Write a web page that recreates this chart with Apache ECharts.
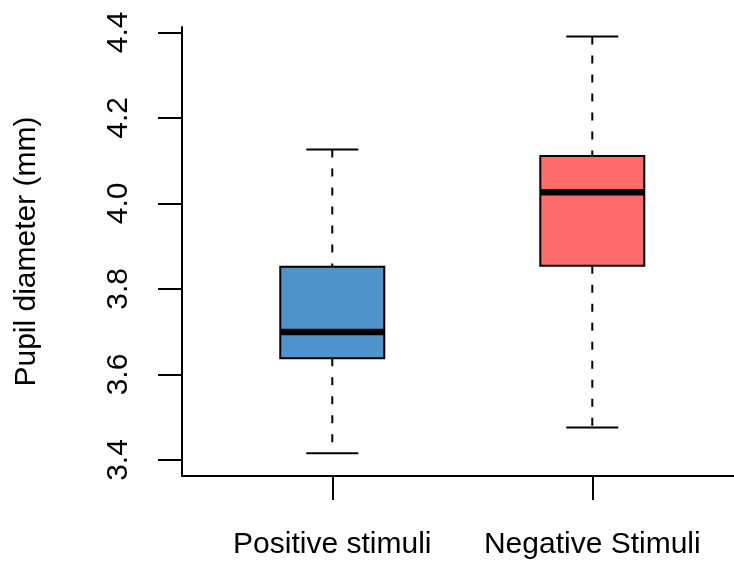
<!DOCTYPE html>
<html>
<head>
<meta charset="utf-8">
<script src="https://cdn.jsdelivr.net/npm/echarts@6/dist/echarts.min.js"></script>
<style>
html,body{margin:0;padding:0;background:#fff;}
#chart{width:734px;height:562px;}
</style>
</head>
<body>
<div id="chart"></div>
<script>
// ---- data ----
var categories = ['Positive stimuli', 'Negative Stimuli'];
var positions = [1, 2];
var lowerWhisker = [3.416, 3.476];
var q1Values = [3.638, 3.854];
var medianValues = [3.699, 4.026];
var q3Values = [3.852, 4.111];
var upperWhisker = [4.126, 4.390];
var yTicks = [3.4, 3.6, 3.8, 4.0, 4.2, 4.4];
var yTitle = 'Pupil diameter (mm)';
var boxColors = ['#4F94CD', '#FF6A6A'];

var FONT = '"Liberation Sans", Arial, Helvetica, sans-serif';
var boxHalf = 0.2, capHalf = 0.1;

var seriesData = positions.map(function (p, i) {
  return [p, lowerWhisker[i], q1Values[i], medianValues[i], q3Values[i], upperWhisker[i], i];
});

function renderItem(params, api) {
  var x = api.value(0);
  var lo = api.value(1), q1 = api.value(2), med = api.value(3), q3 = api.value(4), hi = api.value(5);
  var idx = api.value(6);
  var pLeftTop = api.coord([x - boxHalf, q3]);
  var pRightBot = api.coord([x + boxHalf, q1]);
  var pMedL = api.coord([x - boxHalf, med]);
  var pMedR = api.coord([x + boxHalf, med]);
  var pHi = api.coord([x, hi]);
  var pLo = api.coord([x, lo]);
  var pQ3 = api.coord([x, q3]);
  var pQ1 = api.coord([x, q1]);
  var capHiL = api.coord([x - capHalf, hi]);
  var capHiR = api.coord([x + capHalf, hi]);
  var capLoL = api.coord([x - capHalf, lo]);
  var capLoR = api.coord([x + capHalf, lo]);
  var dashStyle = {stroke: '#000', lineWidth: 2, lineDash: [8, 11], fill: null};
  var solid = {stroke: '#000', lineWidth: 2, fill: null};
  return {
    type: 'group',
    children: [
      {type: 'line', shape: {x1: pHi[0], y1: pHi[1], x2: pQ3[0], y2: pQ3[1]}, style: dashStyle},
      {type: 'line', shape: {x1: pQ1[0], y1: pQ1[1], x2: pLo[0], y2: pLo[1]}, style: dashStyle},
      {type: 'line', shape: {x1: capHiL[0], y1: capHiL[1], x2: capHiR[0], y2: capHiR[1]}, style: solid},
      {type: 'line', shape: {x1: capLoL[0], y1: capLoL[1], x2: capLoR[0], y2: capLoR[1]}, style: solid},
      {type: 'rect', shape: {x: pLeftTop[0], y: pLeftTop[1], width: pRightBot[0] - pLeftTop[0], height: pRightBot[1] - pLeftTop[1]},
        style: {fill: boxColors[idx], stroke: '#000', lineWidth: 2}},
      {type: 'line', shape: {x1: pMedL[0], y1: pMedL[1], x2: pMedR[0], y2: pMedR[1]}, style: {stroke: '#000', lineWidth: 6.5}}
    ]
  };
}

var chart = echarts.init(document.getElementById('chart'), null, {renderer: 'canvas'});
chart.setOption({
  backgroundColor: '#ffffff',
  animation: false,
  grid: {left: 182, right: 0, top: 27, bottom: 86, containLabel: false},
  xAxis: {
    type: 'value',
    min: 0.422, max: 2.545,
    splitLine: {show: false},
    axisLine: {show: true, onZero: false, lineStyle: {color: '#000', width: 2}},
    axisTick: {show: true, length: 24, lineStyle: {color: '#000', width: 2}, customValues: positions},
    axisLabel: {
      show: true, margin: 54, color: '#000', fontSize: 30, fontFamily: FONT,
      customValues: positions,
      formatter: function (v) { return categories[Math.round(v) - 1] || ''; }
    }
  },
  yAxis: {
    type: 'value',
    min: 3.3626, max: 4.4124,
    name: yTitle,
    nameLocation: 'middle',
    nameRotate: 90,
    nameGap: 140,
    nameTextStyle: {color: '#000', fontSize: 30, fontFamily: FONT},
    splitLine: {show: false},
    axisLine: {show: true, onZero: false, lineStyle: {color: '#000', width: 2}},
    axisTick: {show: true, length: 24, lineStyle: {color: '#000', width: 2}, customValues: yTicks},
    axisLabel: {
      show: true, rotate: 90, margin: 48, color: '#000', fontSize: 30, fontFamily: FONT,
      customValues: yTicks,
      formatter: function (v) { return v.toFixed(1); }
    }
  },
  series: [{
    type: 'custom',
    renderItem: renderItem,
    clip: false,
    encode: {x: 0, y: [1, 2, 3, 4, 5]},
    data: seriesData
  }]
});
</script>
</body>
</html>
